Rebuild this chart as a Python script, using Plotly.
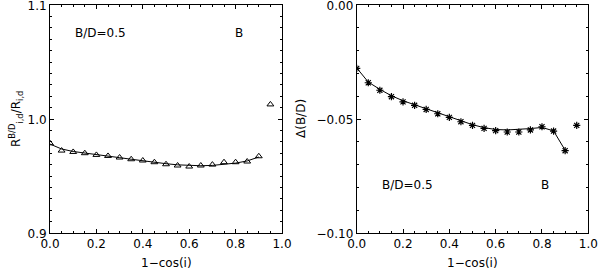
import plotly.graph_objects as go

# ---- data ----
x_pts = [0.00, 0.05, 0.10, 0.15, 0.20, 0.25, 0.30, 0.35, 0.40, 0.45,
         0.50, 0.55, 0.60, 0.65, 0.70, 0.75, 0.80, 0.85, 0.90, 0.95]
ratio_pts = [0.9787, 0.9723, 0.9711, 0.9700, 0.9685, 0.9676, 0.9662, 0.9647, 0.9636, 0.9621,
             0.9603, 0.9592, 0.9583, 0.9592, 0.9600, 0.9621, 0.9621, 0.9627, 0.9673, 1.0128]
x_fit = x_pts[:19]
ratio_fit = [0.9780, 0.9737, 0.9715, 0.9700, 0.9687, 0.9674, 0.9661, 0.9647, 0.9633, 0.9620,
             0.9608, 0.9598, 0.9592, 0.9590, 0.9593, 0.9600, 0.9613, 0.9632, 0.9667]
delta_pts = [-0.0278, -0.0341, -0.0374, -0.0402, -0.0425, -0.0440, -0.0458, -0.0477, -0.0493, -0.0512,
             -0.0528, -0.0541, -0.0551, -0.0557, -0.0557, -0.0548, -0.0534, -0.0553, -0.0639, -0.0528]
delta_fit = [-0.0276, -0.0338, -0.0370, -0.0398, -0.0420, -0.0438, -0.0456, -0.0474, -0.0492, -0.0509,
             -0.0525, -0.0538, -0.0546, -0.0548, -0.0546, -0.0542, -0.0537, -0.0552, -0.0637]
x_ticks = [0.0, 0.2, 0.4, 0.6, 0.8, 1.0]
x_ticklabels = ["0.0", "0.2", "0.4", "0.6", "0.8", "1.0"]
left_yticks = [0.9, 1.0, 1.1]
left_yticklabels = ["0.9", "1.0", "1.1"]
right_yticks = [-0.10, -0.05, 0.00]
right_yticklabels = ["\u22120.10", "\u22120.05", "0.00"]

FONT = "DejaVu Sans"
fig = go.Figure()

fig.add_trace(go.Scatter(x=x_fit, y=ratio_fit, mode="lines",
                         line=dict(color="black", width=1), xaxis="x", yaxis="y"))
fig.add_trace(go.Scatter(x=x_pts, y=ratio_pts, mode="markers",
                         marker=dict(symbol="triangle-up-open", size=6, color="black",
                                     line=dict(width=1, color="black")),
                         xaxis="x", yaxis="y"))
fig.add_trace(go.Scatter(x=x_fit, y=delta_fit, mode="lines",
                         line=dict(color="black", width=1), xaxis="x2", yaxis="y2"))
fig.add_trace(go.Scatter(x=x_pts, y=delta_pts, mode="markers",
                         marker=dict(symbol="asterisk-open", size=6, color="black",
                                     line=dict(width=1.2, color="black")),
                         xaxis="x2", yaxis="y2"))

common = dict(showline=True, linecolor="black", linewidth=1, mirror="allticks",
              ticks="inside", ticklen=4, tickcolor="black", tickwidth=1,
              showgrid=False, zeroline=False, ticklabeloverflow="allow",
              automargin=False,
              tickfont=dict(family=FONT, size=12, color="black"))
minor_x = dict(dtick=0.05, ticklen=2, ticks="inside", tickcolor="black", showgrid=False)
minor_y = dict(dtick=0.01, ticklen=2, ticks="inside", tickcolor="black", showgrid=False)

ydom = [1 - 233 / 275, 1 - 5 / 275]
fig.update_layout(
    width=600, height=275, margin=dict(l=0, r=0, t=0, b=0, autoexpand=False),
    paper_bgcolor="white", plot_bgcolor="white", showlegend=False,
    xaxis=dict(domain=[50 / 600, 282 / 600], range=[0, 1.0000001], tickvals=x_ticks,
               ticktext=x_ticklabels, minor=minor_x, anchor="y", **common),
    yaxis=dict(domain=ydom, range=[0.9, 1.1000001], tickvals=left_yticks,
               ticktext=left_yticklabels, minor=minor_y, anchor="x",
               ticklabelshift=1, **common),
    xaxis2=dict(domain=[356.7 / 600, 588.3 / 600], range=[0, 1.0000001], tickvals=x_ticks,
                ticktext=x_ticklabels, minor=minor_x, anchor="y2", **common),
    yaxis2=dict(domain=ydom, range=[-0.10, 0.0000001], tickvals=right_yticks,
                ticktext=right_yticklabels, minor=minor_y, anchor="x2",
                ticklabelshift=1, **common),
)

tf = dict(family=FONT, size=12, color="black")
ann = [
    dict(x=0.1, y=1.0755, xref="x", yref="y", text="B/D=0.5", showarrow=False,
         xanchor="left", yanchor="middle", font=tf),
    dict(x=0.815, y=1.0755, xref="x", yref="y", text="B", showarrow=False,
         xanchor="center", yanchor="middle", font=tf),
    dict(x=0.1, y=-0.0789, xref="x2", yref="y2", text="B/D=0.5", showarrow=False,
         xanchor="left", yanchor="middle", font=tf),
    dict(x=0.813, y=-0.0789, xref="x2", yref="y2", text="B", showarrow=False,
         xanchor="center", yanchor="middle", font=tf),
    dict(x=166 / 600, y=1 - 263 / 275, xref="paper", yref="paper", text="1\u2212cos(i)",
         showarrow=False, xanchor="center", yanchor="middle", font=tf),
    dict(x=472.5 / 600, y=1 - 263 / 275, xref="paper", yref="paper", text="1\u2212cos(i)",
         showarrow=False, xanchor="center", yanchor="middle", font=tf),
    dict(x=16 / 600, y=1 - 119 / 275, xref="paper", yref="paper",
         text="R<sup>B/D</sup><sub>i,d</sub>/R<sub>i,d</sub>", textangle=-90,
         showarrow=False, xanchor="center", yanchor="middle", font=tf),
    dict(x=301 / 600, y=1 - 119 / 275, xref="paper", yref="paper",
         text="\u0394(B/D)", textangle=-90,
         showarrow=False, xanchor="center", yanchor="middle", font=tf),
]
fig.update_layout(annotations=ann)

fig.write_html("out.html", config={"displayModeBar": False},
               post_script="document.body.style.margin='0';document.body.style.overflow='hidden';")
